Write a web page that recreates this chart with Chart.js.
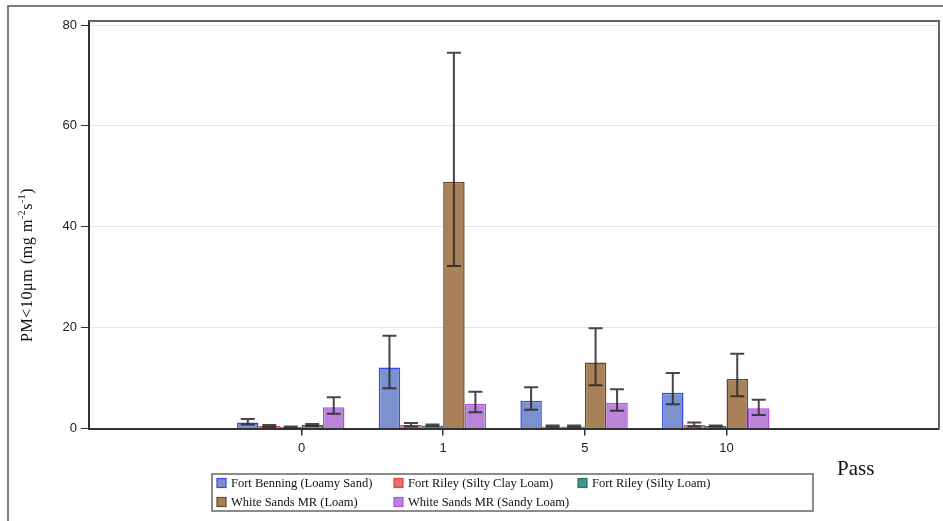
<!DOCTYPE html>
<html>
<head>
<meta charset="utf-8">
<script src="https://cdn.jsdelivr.net/npm/chart.js@4.4.1/dist/chart.umd.min.js"></script>
<style>
  html, body { margin: 0; padding: 0; background: #fff; }
  canvas { display: block; }
</style>
</head>
<body>
<canvas id="c" width="943" height="521"></canvas>
<script>
// Pass counts (empty slots at both ends leave room around the groups)
const passes = ['', '0', '1', '5', '10', ''];

const seriesNames = [
  'Fort Benning (Loamy Sand)',
  'Fort Riley (Silty Clay Loam)',
  'Fort Riley (Silty Loam)',
  'White Sands MR (Loam)',
  'White Sands MR (Sandy Loam)'
];

// Mean PM<10um emission per pass, with lower / upper error limits
const fortBenning      = [null, 1.2, 12.1, 5.5, 7.1, null];
const fortBenningLo    = [null, 0.8, 8.0, 3.7, 4.8, null];
const fortBenningHi    = [null, 1.9, 18.4, 8.2, 11.0, null];

const rileyClay        = [null, 0.5, 0.7, 0.4, 0.7, null];
const rileyClayLo      = [null, 0.3, 0.4, 0.3, 0.4, null];
const rileyClayHi      = [null, 0.7, 1.1, 0.6, 1.2, null];

const rileySilt        = [null, 0.3, 0.6, 0.4, 0.5, null];
const rileySiltLo      = [null, 0.2, 0.5, 0.3, 0.4, null];
const rileySiltHi      = [null, 0.4, 0.8, 0.6, 0.6, null];

const whiteSandsLoam   = [null, 0.7, 48.9, 13.1, 9.8, null];
const whiteSandsLoamLo = [null, 0.5, 32.2, 8.6, 6.4, null];
const whiteSandsLoamHi = [null, 0.9, 74.5, 19.9, 14.8, null];

const whiteSandsSandy   = [null, 4.2, 4.9, 5.1, 4.0, null];
const whiteSandsSandyLo = [null, 2.9, 3.2, 3.5, 2.7, null];
const whiteSandsSandyHi = [null, 6.2, 7.3, 7.8, 5.7, null];

const yTicks = [0, 20, 40, 60, 80];

const fills   = ['rgb(124,145,207)', 'rgb(226,112,112)', 'rgb(64,150,140)', 'rgb(168,129,89)', 'rgb(186,132,216)'];
const borders = ['rgb(58,72,232)',   'rgb(232,66,66)',   'rgb(38,118,108)', 'rgb(98,72,38)',   'rgb(176,78,232)'];

const values = [fortBenning, rileyClay, rileySilt, whiteSandsLoam, whiteSandsSandy];
const lows   = [fortBenningLo, rileyClayLo, rileySiltLo, whiteSandsLoamLo, whiteSandsSandyLo];
const highs  = [fortBenningHi, rileyClayHi, rileySiltHi, whiteSandsLoamHi, whiteSandsSandyHi];

const datasets = seriesNames.map((name, i) => ({
  label: name,
  data: values[i],
  lo: lows[i],
  hi: highs[i],
  backgroundColor: fills[i],
  borderColor: borders[i],
  borderWidth: 1.5
}));
// spacer slot after the five bars of each group
datasets.push({ label: '', data: passes.map(() => null), spacer: true, backgroundColor: 'transparent', borderWidth: 0 });

const SERIF = "'Liberation Serif', 'Times New Roman', serif";
const SANS = "'Liberation Sans', Arial, sans-serif";

// Error bars with separate lower and upper limits
const errorBars = {
  id: 'errorBars',
  afterDatasetsDraw(chart) {
    const ctx = chart.ctx, y = chart.scales.y;
    ctx.save();
    ctx.strokeStyle = 'rgba(40,40,40,0.85)';
    ctx.lineWidth = 2;
    chart.data.datasets.forEach((ds, di) => {
      if (ds.spacer) return;
      const meta = chart.getDatasetMeta(di);
      meta.data.forEach((bar, i) => {
        if (ds.data[i] == null) return;
        const x = bar.x;
        const yl = y.getPixelForValue(ds.lo[i]);
        const yh = y.getPixelForValue(ds.hi[i]);
        const cap = 7;
        ctx.beginPath();
        ctx.moveTo(x, yl); ctx.lineTo(x, yh);
        ctx.moveTo(x - cap, yh); ctx.lineTo(x + cap, yh);
        ctx.moveTo(x - cap, yl); ctx.lineTo(x + cap, yl);
        ctx.stroke();
      });
    });
    ctx.restore();
  }
};

// Frame, axis titles and legend box
const decorations = {
  id: 'decorations',
  afterDraw(chart) {
    const ctx = chart.ctx, a = chart.chartArea;
    ctx.save();
    // outer border (top and left)
    ctx.strokeStyle = '#555';
    ctx.lineWidth = 1.5;
    ctx.beginPath();
    ctx.moveTo(943, 6); ctx.lineTo(8, 6); ctx.lineTo(8, 521);
    ctx.stroke();

    // plot frame top and right
    ctx.strokeStyle = '#666';
    ctx.lineWidth = 2;
    ctx.beginPath();
    ctx.moveTo(a.left, a.top); ctx.lineTo(a.right, a.top); ctx.lineTo(a.right, a.bottom);
    ctx.stroke();

    // y-axis title with superscripts
    ctx.save();
    ctx.translate(32, 265);
    ctx.rotate(-Math.PI / 2);
    ctx.fillStyle = '#111';
    ctx.textBaseline = 'alphabetic';
    ctx.letterSpacing = '0.6px';
    const parts = [
      ['PM<10μm (mg m', 16, 0],
      ['-2', 9.5, -7.5],
      ['s', 16, 0],
      ['-1', 9.5, -7.5],
      [')', 16, 0]
    ];
    let total = 0;
    parts.forEach(p => { ctx.font = p[1] + 'px ' + SERIF; total += ctx.measureText(p[0]).width; });
    let x = -total / 2;
    parts.forEach(p => {
      ctx.font = p[1] + 'px ' + SERIF;
      ctx.fillText(p[0], x, p[2]);
      x += ctx.measureText(p[0]).width;
    });
    ctx.restore();

    // x-axis title
    ctx.fillStyle = '#111';
    ctx.font = '21px ' + SERIF;
    ctx.textAlign = 'left';
    ctx.textBaseline = 'alphabetic';
    ctx.fillText('Pass', 837, 475);

    // legend
    ctx.strokeStyle = '#666';
    ctx.lineWidth = 1.5;
    ctx.strokeRect(212, 474, 601, 37);
    const cols = [217, 394, 578];
    const rows = [483, 502];
    ctx.font = '12.5px ' + SERIF;
    ctx.textBaseline = 'middle';
    seriesNames.forEach((name, i) => {
      const cx = cols[i % 3], cy = rows[Math.floor(i / 3)];
      ctx.fillStyle = fills[i];
      ctx.fillRect(cx, cy - 4.5, 9, 9);
      ctx.strokeStyle = borders[i];
      ctx.lineWidth = 1.2;
      ctx.strokeRect(cx, cy - 4.5, 9, 9);
      ctx.fillStyle = '#111';
      ctx.fillText(name, cx + 14, cy + 0.5);
    });
    ctx.restore();
  }
};

new Chart(document.getElementById('c'), {
  type: 'bar',
  data: { labels: passes, datasets },
  options: {
    responsive: false,
    devicePixelRatio: 1,
    animation: false,
    layout: { padding: { left: 0, top: 21, right: 4, bottom: 0 } },
    datasets: { bar: { categoryPercentage: 0.91, barPercentage: 1 } },
    plugins: { legend: { display: false }, tooltip: { enabled: false } },
    scales: {
      x: {
        grid: {
          offset: false,
          drawOnChartArea: false,
          drawTicks: true,
          tickLength: 7,
          color: ctx => (ctx.index >= 1 && ctx.index <= 4) ? '#333' : 'rgba(0,0,0,0)',
          lineWidth: 1.5
        },
        border: { display: true, color: '#333', width: 2 },
        ticks: { color: '#222', font: { family: SANS, size: 13 }, padding: 5 },
        afterFit(scale) { scale.height = 92.5; }
      },
      y: {
        min: 0,
        max: 80.8,
        afterBuildTicks(scale) { scale.ticks = yTicks.map(v => ({ value: v })); },
        grid: {
          color: ctx => (ctx.tick && ctx.tick.value === 0) ? 'rgba(0,0,0,0)' : '#e6e6e6',
          tickColor: '#333',
          tickLength: 8,
          lineWidth: 1
        },
        border: { display: true, color: '#333', width: 2 },
        ticks: { color: '#222', font: { family: SANS, size: 13 }, padding: 4 },
        afterFit(scale) { scale.width = 89; }
      }
    }
  },
  plugins: [errorBars, decorations]
});
</script>
</body>
</html>
